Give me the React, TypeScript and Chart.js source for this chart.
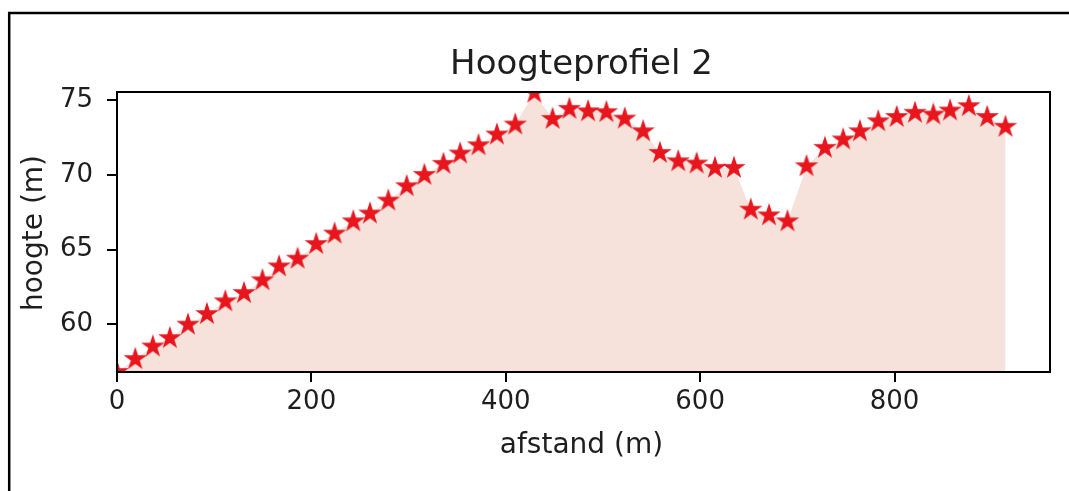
import React, { useEffect, useRef } from 'react';
import Chart from 'chart.js/auto';

// ---- data ----
const distances = [
  0, 18.8, 36.9, 54.4, 73.0, 92.6, 111.5, 130.7, 149.7, 166.8,
  185.8, 205.0, 223.9, 243.1, 260.3, 279.2, 298.1, 316.3, 335.9, 353.1,
  372.0, 390.9, 409.8, 429.4, 448.2, 465.5, 484.7, 503.6, 522.5, 541.4,
  558.6, 577.5, 596.4, 615.3, 634.8, 652.1, 670.9, 689.9, 709.5, 728.4,
  747.2, 764.4, 783.3, 802.3, 821.1, 840.0, 857.2, 876.5, 895.4, 914.2,
];
const heights = [
  56.8, 57.67, 58.51, 59.07, 59.97, 60.68, 61.53, 62.09, 62.94, 63.87,
  64.39, 65.37, 66.07, 66.89, 67.41, 68.28, 69.24, 70.0, 70.74, 71.43,
  71.98, 72.7, 73.37, 75.5, 73.75, 74.42, 74.26, 74.2, 73.77, 72.92,
  71.47, 70.91, 70.76, 70.47, 70.47, 67.67, 67.29, 66.89, 70.58, 71.81,
  72.37, 72.92, 73.59, 73.88, 74.16, 74.04, 74.31, 74.6, 73.88, 73.22,
];
const xTicks = [0, 200, 400, 600, 800];
const yTicks = [60, 65, 70, 75];
const X_MIN = 0;
const X_MAX = 960;
const Y_MIN = 56.8;
const Y_MAX = 75.55;
const TITLE = 'Hoogteprofiel 2';
const X_LABEL = 'afstand (m)';
const Y_LABEL = 'hoogte (m)';

// ---- styles ----
const W = 1069;
const H = 491;
const FONT = "'DejaVu Sans', sans-serif";
const TEXT = '#1e1e1e';
const STAR = '#e8161e';
const FILL = 'rgb(246,226,219)';

function makeStar(): HTMLCanvasElement {
  const c = document.createElement('canvas');
  c.width = 26;
  c.height = 26;
  const ctx = c.getContext('2d')!;
  const R = 8.4;
  const r = R * 0.381966;
  ctx.beginPath();
  for (let i = 0; i < 10; i++) {
    const ang = -Math.PI / 2 + (i * Math.PI) / 5;
    const rad = i % 2 === 0 ? R : r;
    const px = 13 + rad * Math.cos(ang);
    const py = 13 + rad * Math.sin(ang);
    if (i === 0) ctx.moveTo(px, py);
    else ctx.lineTo(px, py);
  }
  ctx.closePath();
  ctx.fillStyle = STAR;
  ctx.fill();
  ctx.lineWidth = 2.4;
  ctx.lineJoin = 'miter';
  ctx.strokeStyle = STAR;
  ctx.stroke();
  return c;
}

const decor = {
  id: 'decor',
  beforeDraw(chart: any) {
    const ctx = chart.ctx;
    ctx.save();
    ctx.fillStyle = '#fff';
    ctx.fillRect(0, 0, W, H);
    ctx.strokeStyle = '#000';
    ctx.lineWidth = 2.5;
    ctx.beginPath();
    ctx.moveTo(9.2, H);
    ctx.lineTo(9.2, 12.9);
    ctx.lineTo(W, 12.9);
    ctx.stroke();
    ctx.restore();
  },
  afterDatasetsDraw(chart: any) {
    const ctx = chart.ctx;
    const a = chart.chartArea;
    ctx.save();
    ctx.strokeStyle = '#000';
    ctx.lineWidth = 2;
    ctx.strokeRect(a.left, a.top, a.right - a.left, a.bottom - a.top);
    const cx = (a.left + a.right) / 2;
    ctx.fillStyle = TEXT;
    ctx.textAlign = 'center';
    ctx.textBaseline = 'alphabetic';
    ctx.font = `34px ${FONT}`;
    ctx.fillText(TITLE, cx - 2, 73.5);
    ctx.font = `28px ${FONT}`;
    ctx.fillText(X_LABEL, cx - 2, 453);
    ctx.translate(42, (a.top + a.bottom) / 2 + 1);
    ctx.rotate(-Math.PI / 2);
    ctx.fillText(Y_LABEL, 0, 0);
    ctx.restore();
  },
};

export default function App() {
  const ref = useRef<HTMLCanvasElement>(null);
  useEffect(() => {
    if (!ref.current) return;
    const star = makeStar();
    const chart = new Chart(ref.current, {
      type: 'scatter',
      data: {
        datasets: [
          {
            data: distances.map((d, i) => ({ x: d, y: heights[i] })),
            showLine: true,
            borderWidth: 0,
            borderColor: 'rgba(0,0,0,0)',
            backgroundColor: FILL,
            fill: 'start',
            tension: 0,
            pointStyle: star as any,
            pointRadius: 10,
            pointHoverRadius: 10,
            clip: 0,
          } as any,
        ],
      },
      options: {
        animation: false,
        responsive: false,
        events: [],
        layout: { padding: { left: 0, top: 92, right: 19, bottom: 0 } },
        plugins: {
          legend: { display: false },
          tooltip: { enabled: false },
          title: { display: false },
        },
        scales: {
          x: {
            type: 'linear',
            min: X_MIN,
            max: X_MAX,
            afterFit: (s: any) => {
              s.height = 119;
            },
            afterBuildTicks: (s: any) => {
              s.ticks = xTicks.map((v) => ({ value: v }));
            },
            grid: { drawOnChartArea: false, drawTicks: true, tickLength: 10, lineWidth: 2, color: '#000' },
            border: { display: false },
            ticks: { font: { family: FONT, size: 26 }, color: TEXT, padding: 5, maxRotation: 0, autoSkip: false },
          },
          y: {
            type: 'linear',
            min: Y_MIN,
            max: Y_MAX,
            afterFit: (s: any) => {
              s.width = 117;
            },
            afterBuildTicks: (s: any) => {
              s.ticks = yTicks.map((v) => ({ value: v }));
            },
            grid: { drawOnChartArea: false, drawTicks: true, tickLength: 10, lineWidth: 2, color: '#000' },
            border: { display: false },
            ticks: { font: { family: FONT, size: 26 }, color: TEXT, padding: 14, autoSkip: false },
          },
        },
      } as any,
      plugins: [decor],
    });
    return () => chart.destroy();
  }, []);
  return (
    <div style={{ position: 'absolute', left: 0, top: 0, width: W, height: H, background: '#fff' }}>
      <canvas ref={ref} width={W} height={H} style={{ display: 'block', width: W, height: H }} />
    </div>
  );
}
